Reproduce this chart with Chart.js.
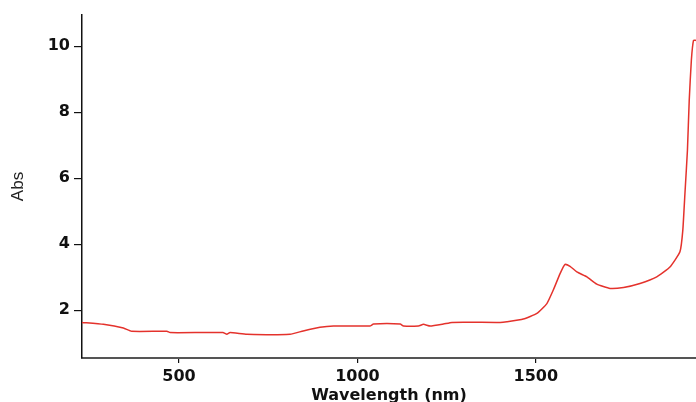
<!DOCTYPE html>
<html>
<head>
<meta charset="utf-8">
<title>Abs vs Wavelength</title>
<script src="https://cdn.jsdelivr.net/npm/chart.js@4/dist/chart.umd.min.js"></script>
<style>
    html, body { margin: 0; padding: 0; background: #fff; }
    #wrap { width: 696px; height: 402px; }
</style>
</head>
<body>
<div id="wrap"><canvas id="spectrum" width="696" height="402"></canvas></div>
<script>
// Spectrum
const wavelengths = [228, 288, 344, 367, 466, 475, 623, 634, 643, 690, 811, 848, 895, 933,
    1035, 1045, 1120, 1129, 1171, 1185, 1204, 1241, 1265, 1400, 1419, 1465, 1503, 1531,
    1549, 1568, 1582, 1596, 1615, 1643, 1671, 1708, 1746, 1792, 1839, 1876, 1904, 1912,
    1918, 1925, 1930, 1936, 1942, 1949];
const absorbance = [1.63, 1.57, 1.46, 1.36, 1.36, 1.32, 1.32, 1.27, 1.32, 1.27, 1.27, 1.37, 1.48, 1.52,
    1.52, 1.58, 1.58, 1.52, 1.52, 1.57, 1.52, 1.58, 1.63, 1.63, 1.65, 1.73, 1.90, 2.20,
    2.61, 3.11, 3.39, 3.33, 3.16, 3.01, 2.79, 2.66, 2.69, 2.81, 3.01, 3.31, 3.77, 4.42,
    5.54, 6.85, 8.36, 9.58, 10.18, 10.18];

const xTicks = [500, 1000, 1500];
const yTicks = [2, 4, 6, 8, 10];

const LINE_RED = '#e4322c';
const AXIS_COLOR = '#111';

const points = wavelengths.map((w, i) => ({ x: w, y: absorbance[i] }));

const ctx = document.getElementById('spectrum').getContext('2d');
new Chart(ctx, {
    type: 'line',
    data: {
        datasets: [{
            label: 'Abs',
            data: points,
            borderColor: LINE_RED,
            borderWidth: 1.5,
            pointRadius: 0,
            tension: 0.15,
            fill: false
        }]
    },
    options: {
        responsive: false,
        animation: false,
        layout: { padding: { top: 15, right: 0, bottom: 0, left: 0 } },
        plugins: {
            legend: { display: false },
            tooltip: { enabled: false }
        },
        scales: {
            x: {
                type: 'linear',
                min: 228,
                max: 1949,
                afterBuildTicks: (scale) => { scale.ticks = xTicks.map(v => ({ value: v })); },
                afterFit: (scale) => { scale.height = 44; },
                border: { display: true, color: '#555', width: 2 },
                grid: { drawOnChartArea: false, drawTicks: true, tickLength: 5, color: AXIS_COLOR, lineWidth: 1.2 },
                ticks: {
                    color: '#111',
                    padding: 4,
                    maxRotation: 0,
                    callback: (v) => String(v),
                    font: { family: '"DejaVu Sans", sans-serif', size: 16, weight: 'bold' }
                },
                title: {
                    display: true,
                    text: 'Wavelength (nm)',
                    color: '#111',
                    padding: { top: 0, bottom: -3 },
                    font: { family: '"DejaVu Sans", sans-serif', size: 16, weight: 'bold' }
                }
            },
            y: {
                min: 0.55,
                max: 10.95,
                afterBuildTicks: (scale) => { scale.ticks = yTicks.map(v => ({ value: v })); },
                afterFit: (scale) => { scale.width = 82; },
                border: { display: true, color: AXIS_COLOR, width: 1.5 },
                grid: { drawOnChartArea: false, drawTicks: true, tickLength: 8, color: AXIS_COLOR, lineWidth: 1.2 },
                ticks: {
                    color: '#111',
                    padding: 4,
                    callback: (v) => String(v),
                    font: { family: '"DejaVu Sans", sans-serif', size: 16, weight: 'bold' }
                },
                title: {
                    display: true,
                    text: 'Abs',
                    color: '#222',
                    padding: { top: 8, bottom: 0 },
                    font: { family: '"Liberation Sans", Arial, sans-serif', size: 17 }
                }
            }
        }
    }
});
</script>
</body>
</html>
